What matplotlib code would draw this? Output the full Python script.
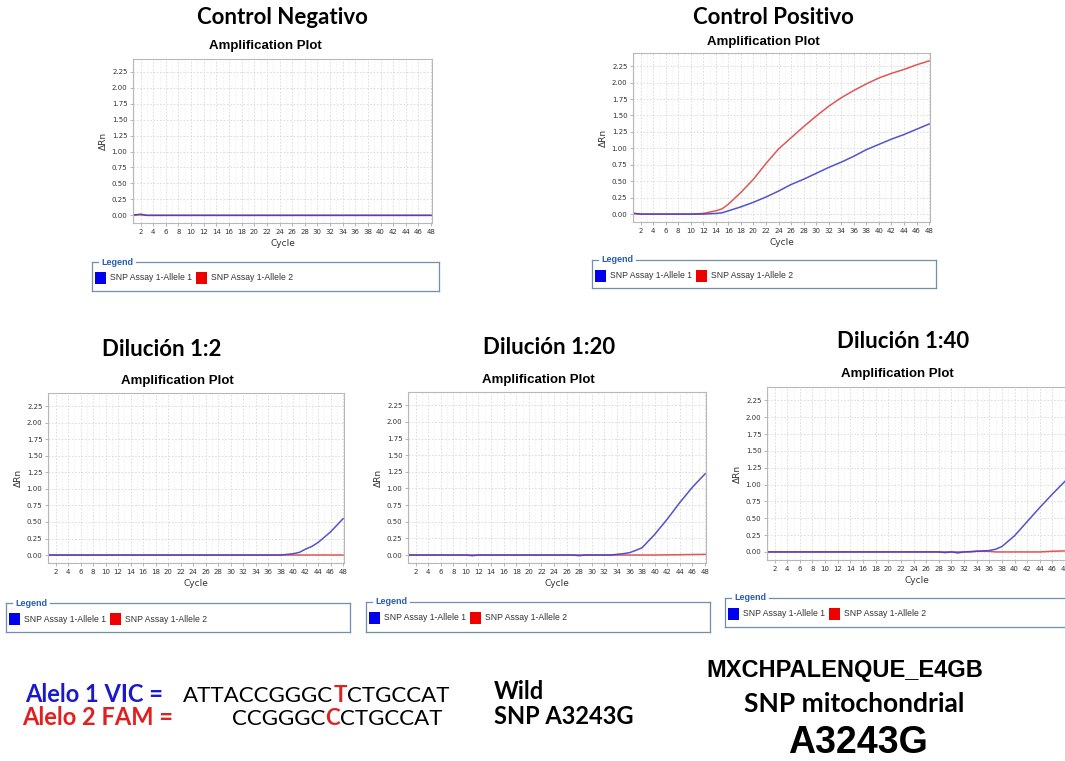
import matplotlib
matplotlib.use("Agg")
import matplotlib.pyplot as plt

# ---- data ----
neg_cycles = [1, 2, 3, 48]
neg_allele1 = [0.01, 0.01, 0.0, 0.0]
neg_allele2 = [0.0, 0.02, 0.0, 0.0]

pos_cycles = [1, 2, 4, 6, 8, 10, 12, 14, 15, 16, 18, 20, 22, 24, 26, 28, 30, 32, 34, 36, 38, 40, 42, 44, 46, 48]
pos_allele1 = [0.01, 0.0, 0.0, 0.0, 0.0, 0.0, 0.0, 0.01, 0.02, 0.05, 0.11, 0.18, 0.26, 0.35, 0.45, 0.53, 0.62, 0.71, 0.79, 0.88, 0.98, 1.06, 1.14, 1.21, 1.29, 1.37]
pos_allele2 = [0.01, 0.0, 0.0, 0.0, 0.0, 0.0, 0.01, 0.05, 0.08, 0.15, 0.33, 0.53, 0.77, 0.99, 1.16, 1.33, 1.49, 1.64, 1.77, 1.88, 1.98, 2.07, 2.14, 2.20, 2.27, 2.33]

d2_cycles = [1, 36, 38, 39, 40, 41, 42, 43, 44, 46, 48]
d2_allele1 = [0.0, 0.0, 0.0, 0.01, 0.02, 0.04, 0.09, 0.13, 0.19, 0.35, 0.55]
d2_red_cycles = [1, 48]
d2_allele2 = [0.0, 0.0]

d20_cycles = [1, 10, 11, 12, 27, 28, 29, 33, 34, 35, 36, 37, 38, 40, 42, 44, 46, 48]
d20_allele1 = [0.0, 0.0, -0.01, 0.0, 0.0, -0.01, 0.0, 0.0, 0.01, 0.02, 0.035, 0.07, 0.11, 0.31, 0.54, 0.79, 1.02, 1.22]
d20_red_cycles = [1, 40, 48]
d20_allele2 = [0.0, 0.0, 0.01]

d40_cycles = [1, 28, 29, 30, 31, 32, 34, 36, 37, 38, 40, 42, 44, 46, 48]
d40_allele1 = [0.0, 0.0, -0.01, 0.0, -0.015, 0.0, 0.01, 0.02, 0.04, 0.08, 0.24, 0.45, 0.66, 0.86, 1.05]
d40_red_cycles = [1, 33, 34, 36, 37, 44, 46, 48]
d40_allele2 = [0.0, 0.0, 0.01, 0.01, 0.0, 0.0, 0.01, 0.015]

x_ticks = list(range(2, 49, 2))
y_ticks = [0.0, 0.25, 0.5, 0.75, 1.0, 1.25, 1.5, 1.75, 2.0, 2.25]
legend_labels = ["SNP Assay 1-Allele 1", "SNP Assay 1-Allele 2"]

W, H = 1065, 761
BLUE_LINE = "#4040c8"
RED_LINE = "#e05555"

fig = plt.figure(figsize=(W / 100, H / 100), dpi=100)
fig.patch.set_facecolor("white")


def px_rect(l, t, r, b):
    return [l / W, 1 - b / H, (r - l) / W, (b - t) / H]


def fx(x):
    return x / W


def fy(y):
    return 1 - y / H


def draw_panel(ax_box, leg_box, title, title_xy, amp_xy, blue, red):
    ax = fig.add_axes(px_rect(*ax_box))
    ax.plot(red[0], red[1], color=RED_LINE, lw=1.1)
    ax.plot(blue[0], blue[1], color=BLUE_LINE, lw=1.1, alpha=0.9)
    ax.set_xlim(0.8, 48.15)
    ax.set_ylim(-0.12, 2.45)
    ax.set_xticks(x_ticks)
    ax.set_yticks(y_ticks)
    ax.set_yticklabels([f"{v:.2f}" for v in y_ticks])
    ax.set_xticks(range(1, 49), minor=True)
    ax.tick_params(labelsize=5, length=2, width=0.5, color="#999999",
                   labelcolor="#333333", pad=2)
    ax.tick_params(which="minor", length=0)
    ax.grid(True, which="major", color="#d8d8d8", lw=0.6, ls=(0, (2, 2)))
    ax.grid(True, which="minor", axis="x", color="#ececec", lw=0.5, ls=(0, (2, 2)))
    ax.set_axisbelow(True)
    for s in ax.spines.values():
        s.set_color("#b8b8b8")
        s.set_linewidth(0.8)
    ax.set_xlabel("Cycle", fontsize=6.5, color="#333333", labelpad=3)
    ax.set_ylabel("ΔRn", fontsize=6.5, color="#333333", labelpad=3)

    fig.text(fx(title_xy[0]), fy(title_xy[1]), title, ha="center", va="center",
             fontsize=16, fontweight="bold", family="Lato")
    fig.text(fx(amp_xy[0]), fy(amp_xy[1]), "Amplification Plot", ha="center",
             va="center", fontsize=9.5, fontweight="bold", family="Liberation Sans")

    # legend box with the title set into the top edge
    l, t, r, b = leg_box
    frame = "#6f8fab"
    fig.add_artist(plt.Line2D([fx(l), fx(l)], [fy(t), fy(b)], color=frame, lw=0.9))
    fig.add_artist(plt.Line2D([fx(l), fx(r)], [fy(b), fy(b)], color=frame, lw=0.9))
    fig.add_artist(plt.Line2D([fx(r), fx(r)], [fy(t), fy(b)], color=frame, lw=0.9))
    fig.add_artist(plt.Line2D([fx(l), fx(l + 6)], [fy(t), fy(t)], color=frame, lw=0.9))
    fig.add_artist(plt.Line2D([fx(l + 44), fx(r)], [fy(t), fy(t)], color=frame, lw=0.9))
    fig.text(fx(l + 9), fy(t), "Legend", ha="left", va="center", fontsize=6.5,
             fontweight="bold", color="#2a5db0", family="Liberation Sans")
    cy = t + 16
    for off, col, lab in [(3, "#0000ee", legend_labels[0]), (104, "#ee0000", legend_labels[1])]:
        fig.add_artist(plt.Rectangle((fx(l + off), fy(cy + 6)), 11 / W, 12 / H,
                                     facecolor=col, edgecolor="none"))
        fig.text(fx(l + off + 15), fy(cy), lab, ha="left", va="center",
                 fontsize=6.2, color="#333333", family="Liberation Sans")
    return ax


draw_panel((133, 59, 432, 223), (92, 262, 439, 291), "Control Negativo", (282, 17), (265, 46),
           (neg_cycles, neg_allele1), (neg_cycles, neg_allele2))
draw_panel((633, 53, 930, 222), (592, 260, 936, 288), "Control Positivo", (773, 17), (763, 42),
           (pos_cycles, pos_allele1), (pos_cycles, pos_allele2))
draw_panel((48, 393, 344, 563), (6, 603, 350, 632), "Dilución 1:2", (162, 349), (177, 381),
           (d2_cycles, d2_allele1), (d2_red_cycles, d2_allele2))
draw_panel((408, 392, 706, 563), (366, 602, 710, 632), "Dilución 1:20", (549, 347), (538, 380),
           (d20_cycles, d20_allele1), (d20_red_cycles, d20_allele2))
draw_panel((767, 387, 1066, 560), (725, 598, 1080, 627), "Dilución 1:40", (903, 341), (897, 374),
           (d40_cycles, d40_allele1), (d40_red_cycles, d40_allele2))

# ---- bottom annotation text (axes in pixel units) ----
tax = fig.add_axes([0, 0, 1, 1])
tax.set_axis_off()
tax.set_xlim(0, W)
tax.set_ylim(H, 0)
renderer = fig.canvas.get_renderer()


def segments(x, y, parts, size):
    for txt, col, weight in parts:
        t = tax.text(x, y, txt, color=col, fontweight=weight, fontsize=size,
                     family="Lato", ha="left", va="baseline")
        x += t.get_window_extent(renderer).width


tax.text(25, 702, "Alelo 1 VIC =", color="#1a1acc", fontsize=17, fontweight="bold",
         family="Lato", ha="left", va="baseline")
tax.text(22, 725, "Alelo 2 FAM =", color="#e02020", fontsize=17, fontweight="bold",
         family="Lato", ha="left", va="baseline")
segments(183, 702, [("ATTACCGGGC", "black", "normal"), ("T", "#e02020", "bold"),
                    ("CTGCCAT", "black", "normal")], 16)
segments(232, 725, [("CCGGGC", "black", "normal"), ("C", "#e02020", "bold"),
                    ("CTGCCAT", "black", "normal")], 16)

tax.text(494, 699, "Wild", fontsize=17, fontweight="bold", family="Lato",
         ha="left", va="baseline")
tax.text(494, 724, "SNP A3243G", fontsize=17, fontweight="bold", family="Lato",
         ha="left", va="baseline")
tax.text(845, 670, "MXCHPALENQUE_E4GB", fontsize=17, fontweight="bold",
         family="Liberation Sans", ha="center", va="center")
tax.text(854, 704, "SNP mitochondrial", fontsize=19, fontweight="bold", family="Lato",
         ha="center", va="center")
tax.text(858, 743, "A3243G", fontsize=27, fontweight="bold", family="Liberation Sans",
         ha="center", va="center")

fig.savefig("out.png", dpi=100)
